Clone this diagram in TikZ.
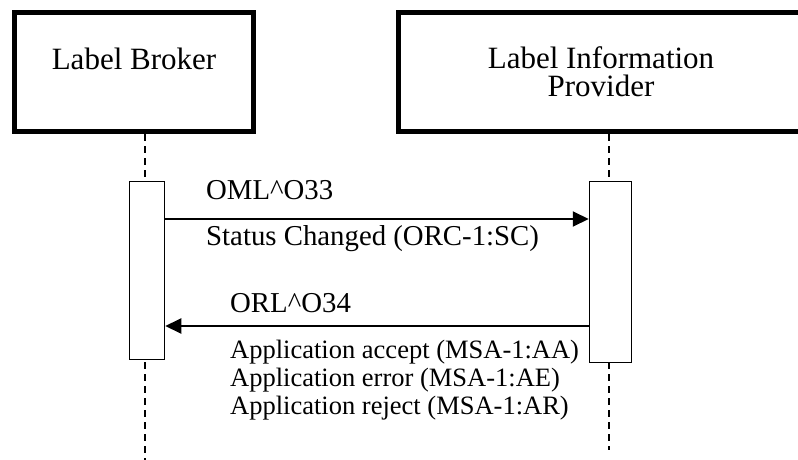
\documentclass[tikz,border=0pt]{standalone}
\usepackage{fontspec}
\setmainfont{Liberation Serif}
\usetikzlibrary{arrows.meta, positioning}
\tikzset{
  actor/.style={draw,line width=5pt,inner sep=0pt,minimum height=119pt,font=\fontsize{31}{28}\selectfont,align=center},
  activation/.style={draw,fill=white,line width=1.5pt,inner sep=0pt},
  lifeline/.style={line width=1.5pt,dash pattern=on 7pt off 5pt},
  message/.style={line width=2pt,-{Triangle[length=16pt,width=15pt]}},
  msglabel/.style={anchor=base west,inner sep=0pt,font=\fontsize{28.8}{34}\selectfont},
  replylabel/.style={anchor=base west,inner sep=0pt,align=left,font=\fontsize{26.5}{28}\selectfont},
}
\begin{document}
\begin{tikzpicture}[x=1pt,y=-1pt]
	    \useasboundingbox (0,0) rectangle (798,460);
	    % participants
	    \node[actor,minimum width=239pt,text depth=27pt] (broker) at (134,72) {Label Broker};
	    \node[actor,minimum width=405pt] (provider) at (601,72) {Label Information\\Provider};
	    % lifelines
	    \coordinate (brokerend) at (145,460);
	    \coordinate (providerend) at (609,450);
	    \draw[lifeline] (broker.south -| brokerend) -- (brokerend);
	    \draw[lifeline] (provider.south -| providerend) -- (providerend);
	    % activations
	    \node[activation,minimum width=35pt,minimum height=178pt] (brokeract) at (147,270.5) {};
	    \node[activation,minimum width=42pt,minimum height=181pt] (provideract) at (610.5,272) {};
	    % messages
	    \coordinate (msg) at (0,219);
	    \coordinate (reply) at (0,326);
	    \draw[message] (brokeract.east |- msg) -- (provideract.west |- msg);
	    \draw[message] (provideract.west |- reply) -- (brokeract.east |- reply);
	    \node[msglabel] (omltxt) at (206,199) {OML\textasciicircum O33};
	    \node[msglabel] (statustxt) at (206,245) {Status Changed (ORC-1:SC)};
	    \node[msglabel] (orltxt) at (230,312) {ORL\textasciicircum O34};
	    % base of a multi-line node is its last line
	    \node[replylabel] (acktxt) at (230,414)
	    	{Application accept (MSA-1:AA)\\Application error (MSA-1:AE)\\Application reject (MSA-1:AR)};
	\end{tikzpicture}
\end{document}
